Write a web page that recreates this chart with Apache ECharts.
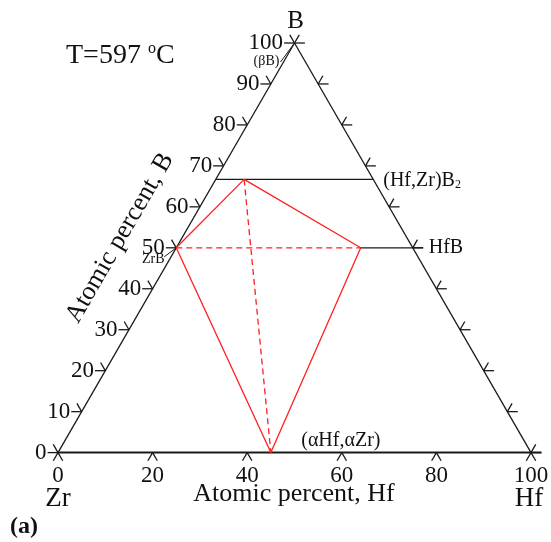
<!DOCTYPE html>
<html>
<head>
<meta charset="utf-8">
<script src="https://cdn.jsdelivr.net/npm/echarts@6/dist/echarts.min.js"></script>
<style>
  html, body { margin: 0; padding: 0; background: #fff; }
  #main { width: 551px; height: 542px; }
</style>
</head>
<body>
<div id="main"></div>
<script>
  // ternary data, every point given as [at.% Hf, at.% B] (Zr is the rest)
  const bTicks = [0, 10, 20, 30, 40, 50, 60, 70, 80, 90, 100]
  const hfTicks = [0, 20, 40, 60, 80, 100]
  const redSolid = [[0, 50], [6, 66.7], [39, 50], [45, 0], [0, 50]]
  const redDashed = [
    [[0, 50], [39, 50]],
    [[6, 66.7], [45, 0]]
  ]
  const blackTies = [
    [[0, 66.7], [33.3, 66.7]],   // (Hf,Zr)B2 line
    [[39, 50], [50, 50]]         // HfB line
  ]
  const phaseB2 = [33.3, 66.7]
  const phaseHfB = [50, 50]
  const phaseZrB = [0, 50]
  const phaseBetaB = [0, 100]
  const phaseAlpha = [45, 0]

  const SQ = Math.sqrt(3) / 2
  const toXY = (hf, b) => [hf + b / 2, b * SQ]
  const add = (p, d, k) => [p[0] + d[0] * k, p[1] + d[1] * k]

  const HL = 2.2   // horizontal tick length
  const DL = 2.0   // slanted tick length
  const LEFT = [-1, 0], RIGHT = [1, 0]
  const UPLEFT = [-0.5, SQ], UPRIGHT = [0.5, SQ]
  const DOWNLEFT = [-0.5, -SQ], DOWNRIGHT = [0.5, -SQ]

  const frame = []
  const seg = (a, b) => frame.push([a[0], a[1], b[0], b[1]])
  // triangle edges
  seg(toXY(0, 0), toXY(0, 100))
  seg(toXY(0, 100), toXY(100, 0))
  // ticks on left and right edges
  bTicks.forEach(b => {
    const pl = toXY(0, b)
    seg(pl, add(pl, LEFT, HL))
    seg(pl, add(pl, UPLEFT, DL))
    const pr = toXY(100 - b, b)
    seg(pr, add(pr, RIGHT, HL))
    seg(pr, add(pr, UPRIGHT, DL))
  })
  // ticks on bottom edge
  hfTicks.forEach(h => {
    const p = toXY(h, 0)
    seg(p, add(p, DOWNLEFT, DL))
    seg(p, add(p, DOWNRIGHT, DL))
  })
  blackTies.forEach(t => seg(toXY(...t[0]), toXY(...t[1])))
  // HfB line runs on as a tick past the edge
  seg(toXY(...phaseHfB), add(toXY(...phaseHfB), RIGHT, HL))

  const dashed = redDashed.map(d => {
    const a = toXY(...d[0]), b = toXY(...d[1])
    return [a[0], a[1], b[0], b[1]]
  })
  const bottomA = toXY(0, 0), bottomB = add(toXY(100, 0), RIGHT, HL)

  const segSeries = (data, color, width, dash) => ({
    type: 'custom',
    silent: true,
    clip: false,
    encode: { x: [0, 2], y: [1, 3] },
    data: data,
    renderItem: (params, api) => {
      const a = api.coord([api.value(0), api.value(1)])
      const b = api.coord([api.value(2), api.value(3)])
      return {
        type: 'line',
        shape: { x1: a[0], y1: a[1], x2: b[0], y2: b[1] },
        style: { stroke: color, lineWidth: width, lineDash: dash || null }
      }
    }
  })

  const chart = echarts.init(document.getElementById('main'))
  chart.setOption({
    animation: false,
    grid: { left: 58, top: 43, width: 473, height: 409.6 },
    xAxis: { type: 'value', min: 0, max: 100, show: false },
    yAxis: { type: 'value', min: 0, max: 100 * SQ, show: false },
    series: [
      segSeries(frame, '#1a1a1a', 1.3),
      segSeries([[bottomA[0], bottomA[1], bottomB[0], bottomB[1]]], '#1a1a1a', 2),
      {
        type: 'line', silent: true, clip: false, symbol: 'none',
        lineStyle: { color: '#ff1f1f', width: 1.3 },
        data: redSolid.map(p => toXY(...p))
      },
      segSeries(dashed, '#ff1f1f', 1.3, [6, 4])
    ]
  })

  const px = p => chart.convertToPixel({ gridIndex: 0 }, p)
  const serif = '"Liberation Serif", "Times New Roman", serif'
  const txt = (text, x, y, size, opts) => Object.assign({
    type: 'text', x: x, y: y, silent: true,
    style: Object.assign({
      text: text, fill: '#111', font: size + 'px ' + serif,
      align: 'center', verticalAlign: 'middle'
    }, (opts && opts.style) || {})
  }, opts && opts.el)

  const g = []
  bTicks.forEach(b => {
    const p = px(add(toXY(0, b), LEFT, HL))
    g.push(txt(String(b), p[0] - 1, p[1], 23, { style: { align: 'right' } }))
  })
  hfTicks.forEach(h => {
    const p = px(toXY(h, 0))
    g.push(txt(String(h), p[0], p[1] + 23, 23))
  })

  // corner and axis names
  const apex = px(toXY(0, 100)), zr = px(toXY(0, 0)), hf = px(toXY(100, 0))
  g.push(txt('B', apex[0] + 1, apex[1] - 22, 25))
  g.push(txt('Zr', zr[0], zr[1] + 46, 27))
  g.push(txt('Hf', hf[0] - 2, hf[1] + 46, 27))
  g.push(txt('Atomic percent, Hf', 294, 494, 26))
  g.push(txt('Atomic percent, B', 120, 238, 26, { el: { rotation: Math.PI / 3 } }))

  // phase labels
  const pb = px(toXY(...phaseBetaB))
  g.push(txt('(βB)', pb[0] - 28, pb[1] + 18, 14))
  g.push({ type: 'line', silent: true, shape: { x1: pb[0] - 14, y1: pb[1] + 19, x2: pb[0], y2: pb[1] }, style: { stroke: '#1a1a1a', lineWidth: 1 } })
  const pz = px(toXY(...phaseZrB))
  g.push(txt('ZrB', pz[0] - 23, pz[1] + 12, 14))
  g.push({ type: 'line', silent: true, shape: { x1: pz[0] - 12, y1: pz[1] + 9, x2: pz[0], y2: pz[1] }, style: { stroke: '#1a1a1a', lineWidth: 1 } })
  const p2 = px(toXY(...phaseB2))
  g.push(txt('(Hf,Zr)B{s|2}', p2[0] + 10, p2[1] + 1, 20, {
    style: { align: 'left', rich: { s: { fontSize: 12, fontFamily: 'Liberation Serif', padding: [9, 0, 0, 0] } } }
  }))
  const ph = px(toXY(...phaseHfB))
  g.push(txt('HfB', ph[0] + 16, ph[1], 20, { style: { align: 'left' } }))
  const pa = px(toXY(...phaseAlpha))
  g.push(txt('(αHf,αZr)', pa[0] + 70, pa[1] - 12, 20))

  g.push(txt('T=597 {o|o}C', 66, 56, 28, {
    style: { align: 'left', rich: { o: { fontSize: 16, fontFamily: 'Liberation Serif', padding: [0, 0, 14, 0] } } }
  }))
  g.push(txt('(a)', 10, 527, 24, { style: { align: 'left', font: 'bold 24px ' + serif } }))

  chart.setOption({ graphic: { elements: g } })
</script>
</body>
</html>
